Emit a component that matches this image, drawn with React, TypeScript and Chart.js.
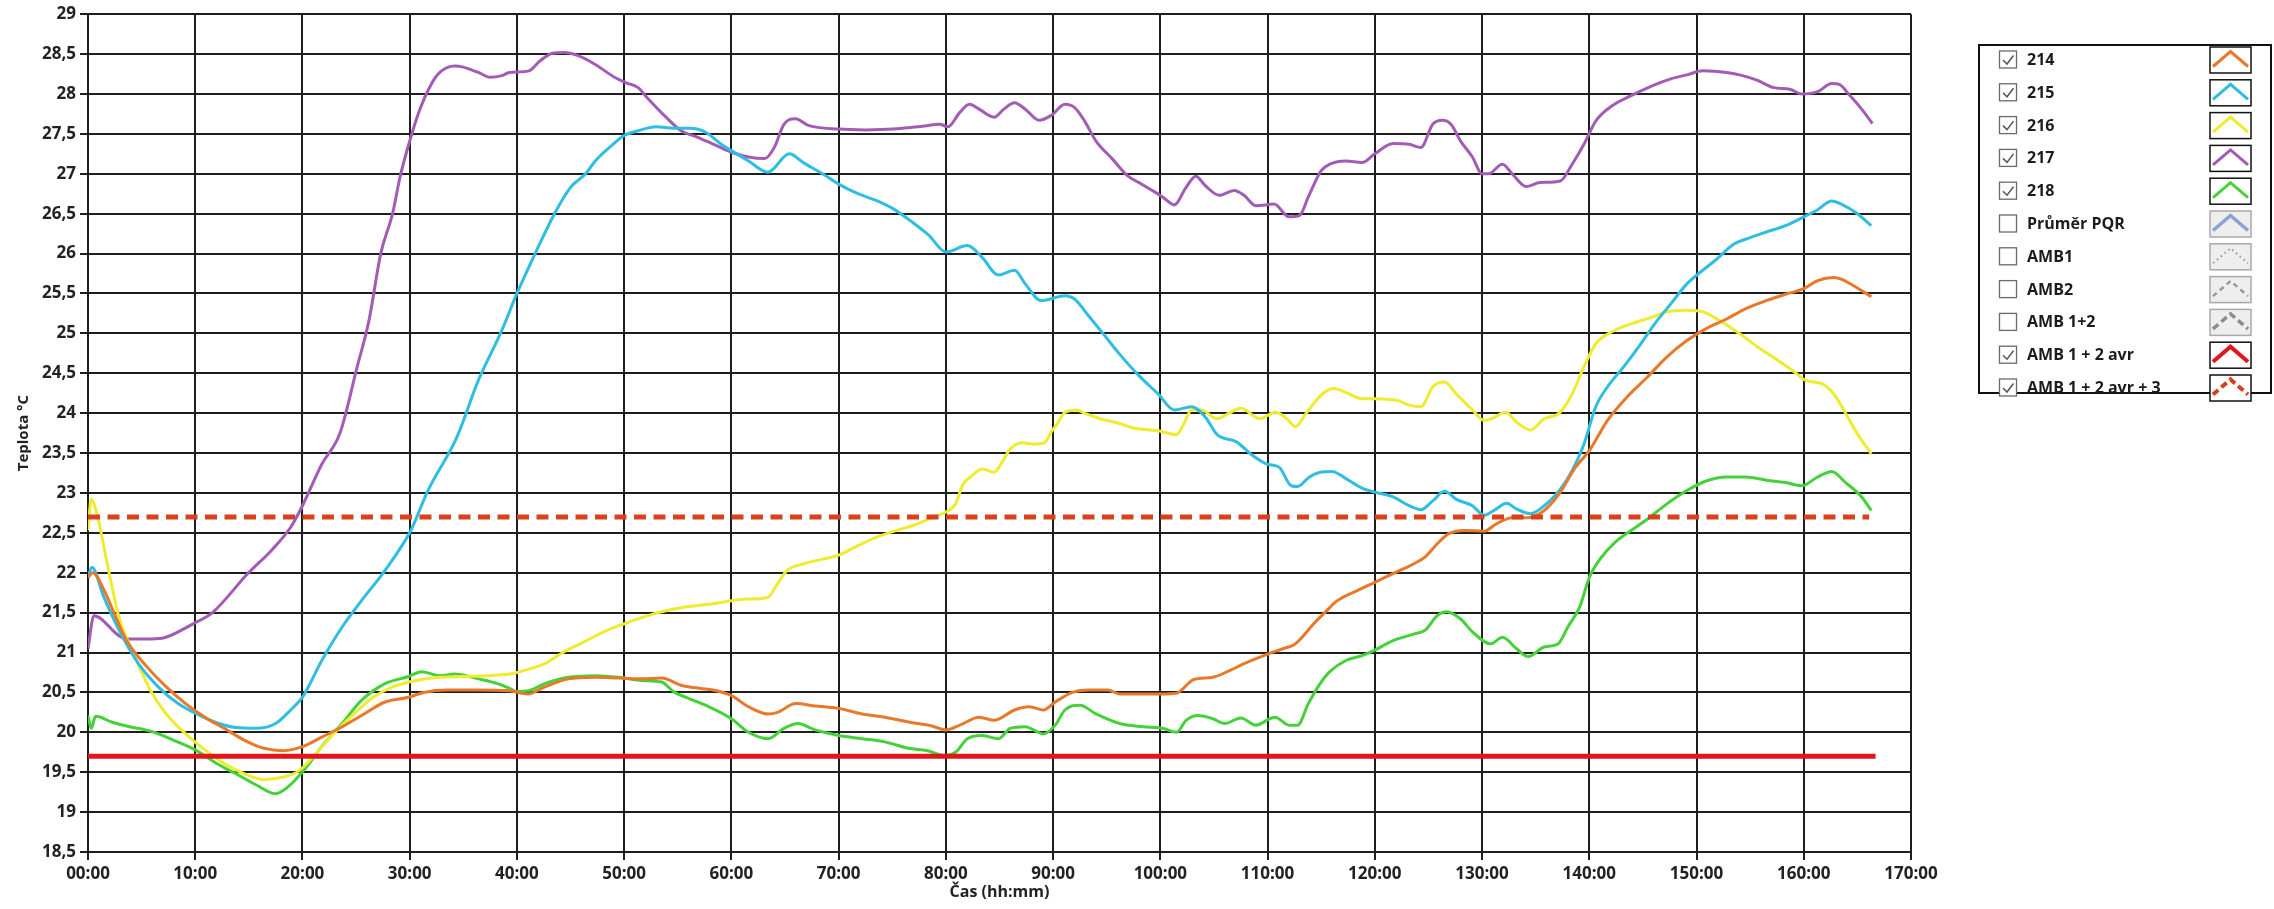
import { useEffect, useRef } from "react";
import { Chart, registerables } from "chart.js";

Chart.register(...registerables);

const W = 2274;
const H = 909;
const FONT = "'Open Sans', 'Noto Sans', sans-serif";

// Time axis (hours) and temperatures (°C) per sensor
const t214 = [0, 0.45, 1.5, 2.6, 3.6, 5.5, 7.3, 9.1, 10.9, 12.7, 14.6, 16.4, 18.2, 20, 21.8, 23.7, 25.5, 27.7, 29.9, 31.3, 33.5, 36.4, 39.3, 41, 42.6, 44.8, 47.3, 49.5, 51.7, 53.5, 55.3, 57.1, 58.3, 60, 61.6, 63.4, 64.3, 66, 67.8, 70, 72.2, 74.3, 76.5, 78.7, 80, 81.3, 83.1, 84.5, 86.4, 87.8, 89.1, 90.2, 91.8, 93.3, 95.1, 96.2, 98.4, 100.1, 101.5, 103.1, 104.9, 106.4, 107.8, 110, 111.5, 112.5, 113.2, 114.3, 115.4, 116.5, 118.4, 120, 121.7, 123.6, 124.7, 125.8, 126.9, 128.4, 130.2, 131.3, 132.8, 134.3, 135.8, 137.2, 138.7, 140, 141.7, 143.5, 145.4, 147.2, 149.1, 150.9, 152.8, 154.6, 156.5, 158.3, 160, 161.3, 162.8, 163.5, 164.6, 166.3];
const v214 = [21.94, 22.0, 21.78, 21.44, 21.15, 20.82, 20.57, 20.36, 20.19, 20.05, 19.9, 19.8, 19.77, 19.82, 19.94, 20.07, 20.21, 20.38, 20.44, 20.5, 20.53, 20.53, 20.52, 20.48, 20.57, 20.67, 20.69, 20.68, 20.67, 20.68, 20.59, 20.55, 20.53, 20.46, 20.32, 20.23, 20.25, 20.36, 20.33, 20.3, 20.23, 20.19, 20.13, 20.08, 20.03, 20.09, 20.19, 20.15, 20.28, 20.32, 20.28, 20.38, 20.5, 20.53, 20.53, 20.48, 20.48, 20.48, 20.49, 20.66, 20.69, 20.77, 20.86, 20.98, 21.05, 21.1, 21.19, 21.36, 21.51, 21.65, 21.78, 21.88, 21.99, 22.11, 22.2, 22.36, 22.49, 22.53, 22.52, 22.61, 22.69, 22.69, 22.78, 22.99, 23.32, 23.53, 23.91, 24.2, 24.45, 24.7, 24.91, 25.06, 25.18, 25.31, 25.41, 25.49, 25.56, 25.66, 25.7, 25.68, 25.6, 25.46];

const t215 = [0, 0.36, 1.46, 2.9, 4.7, 6.55, 8.4, 10, 12, 13.8, 15.65, 17.5, 18.9, 20, 21.8, 23.7, 25.5, 27.7, 30.1, 31.7, 34.4, 36.4, 38.6, 40, 41.7, 43.5, 45, 46.4, 47.3, 48.8, 50, 51.3, 53, 54.6, 56.2, 57.6, 59.05, 60, 61.6, 63.4, 65.4, 66.7, 68.5, 70, 71.8, 73.6, 75.1, 76.9, 78.4, 80, 82, 83.4, 84.9, 86.4, 87.4, 88.9, 91.1, 92, 93.3, 94.7, 96.2, 98, 99.8, 101.3, 102.9, 104.2, 105.3, 107.1, 108.6, 110, 111.1, 112.2, 112.8, 113.9, 114.9, 116, 117.3, 118.8, 120, 121.7, 123.2, 124.3, 125.4, 126.5, 127.6, 129.1, 130.2, 131.1, 132.3, 133.2, 134.5, 135.8, 137.2, 138.4, 139.5, 140.6, 141.7, 143.2, 144.6, 146.1, 147.6, 149.1, 150.2, 151.7, 153.5, 155, 156.5, 158.3, 160, 161.3, 162.6, 163.5, 165, 166.3];
const v215 = [21.94, 22.07, 21.7, 21.28, 20.86, 20.57, 20.36, 20.24, 20.12, 20.06, 20.05, 20.11, 20.28, 20.44, 20.9, 21.32, 21.65, 22.03, 22.53, 23.03, 23.7, 24.41, 25.04, 25.5, 26.0, 26.5, 26.83, 27.0, 27.16, 27.35, 27.48, 27.54, 27.59, 27.57, 27.57, 27.52, 27.37, 27.29, 27.16, 27.02, 27.25, 27.14, 27.0, 26.87, 26.75, 26.66, 26.56, 26.39, 26.23, 26.02, 26.1, 25.95, 25.73, 25.79, 25.62, 25.41, 25.47, 25.43, 25.22, 24.99, 24.74, 24.47, 24.24, 24.04, 24.08, 23.95, 23.73, 23.64, 23.47, 23.36, 23.32, 23.09, 23.08, 23.2, 23.26, 23.27, 23.18, 23.06, 23.01, 22.95, 22.84, 22.79, 22.9, 23.02, 22.92, 22.84, 22.72, 22.78, 22.87, 22.8, 22.74, 22.84, 23.03, 23.28, 23.61, 24.08, 24.33, 24.58, 24.83, 25.12, 25.37, 25.62, 25.75, 25.91, 26.12, 26.2, 26.27, 26.35, 26.46, 26.55, 26.66, 26.62, 26.5, 26.35];

const t216 = [0, 0.3, 0.9, 1.8, 2.9, 4.4, 5.8, 7.3, 9.1, 10.9, 12.7, 14.6, 16.4, 18.2, 19.7, 21.1, 22.9, 24.8, 26.6, 28.4, 30.6, 32.8, 34.9, 37.1, 39.3, 40.8, 42.6, 44.4, 46.2, 48.1, 50, 51.7, 53.5, 55.7, 58.3, 60, 61.6, 63.4, 64.1, 65.2, 66.7, 68.5, 70, 71.8, 73.6, 75.4, 77.3, 78.7, 80, 80.9, 81.6, 82.3, 83.4, 84.5, 85.3, 86, 87.1, 88.2, 89.2, 89.8, 90.4, 91.1, 92.2, 92.9, 94.4, 96.2, 97.6, 99.8, 101.5, 102.2, 102.9, 103.8, 105.3, 106.4, 107.5, 109.3, 110.7, 111.8, 112.6, 113.6, 115.1, 116.2, 117.3, 118.8, 120, 122.1, 123.2, 124.3, 125.4, 126.5, 127.6, 129.1, 130.2, 130.9, 132.2, 133.2, 134.5, 135.8, 137.2, 138.4, 139.5, 140.6, 142.1, 143.9, 145.8, 147.2, 149.1, 150.6, 152.4, 154.3, 155.7, 157.6, 159.1, 160.2, 161.7, 162.8, 163.9, 165, 166.3];
const v216 = [22.53, 22.92, 22.7, 22.11, 21.44, 20.94, 20.53, 20.23, 19.98, 19.78, 19.61, 19.48, 19.41, 19.44, 19.52, 19.71, 19.98, 20.23, 20.44, 20.57, 20.65, 20.69, 20.7, 20.71, 20.73, 20.78, 20.86, 21.01, 21.13, 21.26, 21.36, 21.44, 21.51, 21.57, 21.61, 21.65, 21.67, 21.69, 21.82, 22.03, 22.11, 22.17, 22.22, 22.34, 22.45, 22.53, 22.61, 22.69, 22.76, 22.86, 23.11, 23.2, 23.3, 23.26, 23.4, 23.55, 23.63, 23.61, 23.63, 23.76, 23.87, 24.01, 24.04, 24.0, 23.93, 23.87, 23.81, 23.78, 23.73, 23.87, 24.04, 24.04, 23.93, 24.0, 24.06, 23.93, 24.01, 23.93, 23.83, 24.0, 24.24, 24.31, 24.26, 24.18, 24.18, 24.16, 24.1, 24.08, 24.33, 24.39, 24.24, 24.04, 23.91, 23.93, 24.01, 23.89, 23.79, 23.93, 24.0, 24.24, 24.58, 24.87, 25.02, 25.12, 25.2, 25.27, 25.29, 25.27, 25.14, 24.97, 24.83, 24.66, 24.52, 24.41, 24.37, 24.24, 24.0, 23.74, 23.49];

const t217 = [0, 0.55, 2.9, 3.6, 5.5, 6.9, 9.8, 11.6, 14.9, 17.1, 18.9, 20, 21.8, 23.5, 25.1, 26.2, 27.3, 28.4, 29.1, 30, 30.9, 32, 32.8, 34.2, 34.9, 36.4, 37.5, 38.6, 39.3, 41.1, 42.2, 43.3, 44.4, 45.7, 47.3, 49.1, 50.2, 51.3, 52.1, 53.9, 55.3, 56.8, 58, 60, 61.6, 63.1, 64, 64.9, 66, 67.1, 70, 72.5, 75.1, 78, 79.4, 80.2, 81.3, 82.2, 83.1, 84.5, 85.4, 86.4, 87.4, 88.7, 89.8, 91.1, 92, 92.9, 94, 95.5, 96.9, 98, 99.5, 100.2, 101.3, 102.4, 103.3, 104.2, 105.5, 106.9, 107.8, 108.9, 110.6, 112, 113, 113.8, 115, 115.8, 117.3, 118.8, 120, 121.7, 123.2, 124.3, 125.4, 126.3, 127.1, 128, 129.1, 130, 130.6, 131.9, 132.8, 134.1, 135.4, 137.3, 138.4, 139.5, 140.6, 142.1, 143.9, 145.8, 147.6, 149.1, 150.6, 152.8, 154.3, 155.7, 157.2, 158.7, 159.8, 161.3, 162.6, 163.3, 164.3, 165.4, 166.4];
const v217 = [21.05, 21.46, 21.21, 21.17, 21.17, 21.18, 21.36, 21.5, 21.99, 22.28, 22.57, 22.84, 23.36, 23.75, 24.58, 25.16, 26.0, 26.5, 26.96, 27.41, 27.79, 28.12, 28.27, 28.35, 28.34, 28.27, 28.21, 28.23, 28.27, 28.29, 28.42, 28.51, 28.52, 28.48, 28.37, 28.21, 28.14, 28.08, 27.96, 27.71, 27.54, 27.46, 27.39, 27.27, 27.21, 27.19, 27.33, 27.62, 27.69, 27.61, 27.56, 27.55, 27.56, 27.6, 27.62, 27.59, 27.77, 27.87, 27.81, 27.71, 27.81, 27.89, 27.81, 27.67, 27.73, 27.87, 27.83, 27.67, 27.41, 27.19, 26.98, 26.89, 26.77, 26.71, 26.61, 26.83, 26.97, 26.85, 26.73, 26.79, 26.73, 26.6, 26.62, 26.46, 26.48, 26.71, 27.04, 27.12, 27.16, 27.14, 27.25, 27.38, 27.37, 27.33, 27.62, 27.67, 27.62, 27.41, 27.21, 27.0, 27.0, 27.12, 27.0, 26.84, 26.89, 26.91, 27.12, 27.37, 27.66, 27.85, 27.98, 28.1, 28.19, 28.24, 28.29, 28.27, 28.23, 28.17, 28.08, 28.06, 28.0, 28.03, 28.13, 28.12, 27.98, 27.81, 27.63];

const t218 = [0, 0.3, 0.7, 2.2, 3.6, 6.2, 8, 10, 12, 13.8, 15.7, 17.5, 18.2, 19.3, 20.4, 21.8, 23.7, 25.5, 27.7, 29.9, 31.1, 32.8, 34.2, 36.4, 38.2, 39.3, 40, 41.1, 42.6, 44.8, 47.3, 49.5, 51.7, 53.5, 54.6, 56.1, 57.9, 60, 61.6, 63.4, 64.9, 66.2, 67.8, 70, 72.2, 74.3, 76.5, 78.3, 79.8, 80.9, 82, 83.4, 84.9, 86, 87.4, 89.1, 90.2, 91.1, 92.5, 94, 96.2, 98.4, 100.2, 101.5, 102.4, 103.5, 104.9, 106, 107.5, 108.9, 110.7, 112, 112.8, 113.8, 114.9, 115.8, 117.3, 118.8, 120, 121.7, 123.6, 124.7, 125.8, 126.7, 128, 129.1, 130.8, 131.9, 133.2, 134.3, 135.8, 137.1, 138, 139.1, 140, 141, 142.4, 143.9, 145.4, 147.2, 149.1, 150.9, 152.8, 154.6, 156.5, 158.3, 159.8, 161.3, 162.6, 163.9, 165.4, 166.3];
const v218 = [20.21, 20.05, 20.2, 20.13, 20.08, 20.0, 19.9, 19.78, 19.61, 19.48, 19.34, 19.23, 19.27, 19.4, 19.57, 19.82, 20.11, 20.4, 20.61, 20.7, 20.76, 20.71, 20.73, 20.67, 20.61, 20.55, 20.51, 20.52, 20.61, 20.69, 20.71, 20.69, 20.65, 20.63, 20.51, 20.42, 20.32, 20.17, 20.0, 19.92, 20.05, 20.11, 20.03, 19.96, 19.92, 19.88, 19.8, 19.77, 19.71, 19.75, 19.92, 19.96, 19.92, 20.05, 20.07, 19.98, 20.09, 20.28, 20.34, 20.23, 20.11, 20.07, 20.05, 20.0, 20.15, 20.21, 20.17, 20.11, 20.18, 20.09, 20.19, 20.09, 20.09, 20.36, 20.61, 20.76, 20.9, 20.96, 21.03, 21.15, 21.23, 21.28, 21.46, 21.51, 21.42, 21.26, 21.11, 21.19, 21.05, 20.95, 21.07, 21.11, 21.32, 21.57, 21.94, 22.17, 22.38, 22.53, 22.67, 22.86, 23.03, 23.15, 23.2, 23.2, 23.16, 23.13, 23.09, 23.2, 23.27, 23.13, 22.95, 22.78];

// Reference levels (AMB averages)
const ambAvrTimes = [0, 166.7];
const ambAvrValues = [19.7, 19.7];
const ambAvr3Times = [0, 166.1];
const ambAvr3Values = [22.7, 22.7];

// Axis ranges and legend entries
const xTicksHours = { min: 0, max: 170, step: 10 };
const yTicksTemp = { min: 18.5, max: 29, step: 0.5 };

const C_214 = "#e8792a";
const C_215 = "#2fbde2";
const C_216 = "#eeec2e";
const C_217 = "#a35cb6";
const C_218 = "#45d13a";
const C_AVR = "#e0161b";
const C_AVR3 = "#d9401c";

type LegendEntry = { label: string; color: string; checked: boolean; dash: number[]; width: number };

const legendEntries: LegendEntry[] = [
  { label: "214", color: C_214, checked: true, dash: [], width: 3 },
  { label: "215", color: C_215, checked: true, dash: [], width: 3 },
  { label: "216", color: C_216, checked: true, dash: [], width: 3 },
  { label: "217", color: C_217, checked: true, dash: [], width: 3 },
  { label: "218", color: C_218, checked: true, dash: [], width: 3 },
  { label: "Průměr PQR", color: "#8aa3d6", checked: false, dash: [], width: 3.5 },
  { label: "AMB1", color: "#a8a8a8", checked: false, dash: [2, 3], width: 2 },
  { label: "AMB2", color: "#999999", checked: false, dash: [5, 4], width: 2.5 },
  { label: "AMB 1+2", color: "#8c8c8c", checked: false, dash: [7, 4], width: 3.5 },
  { label: "AMB 1 + 2 avr", color: C_AVR, checked: true, dash: [], width: 4 },
  { label: "AMB 1 + 2 avr + 3", color: C_AVR3, checked: true, dash: [7, 4], width: 4 },
];

const pts = (t: number[], v: number[]) => t.map((x, i) => ({ x, y: v[i] }));

const series = (label: string, color: string, t: number[], v: number[]) => ({
  label,
  data: pts(t, v),
  borderColor: color,
  backgroundColor: color,
  borderWidth: 3,
  pointRadius: 0,
  borderJoinStyle: "round" as const,
  cubicInterpolationMode: "monotone" as const,
  order: 2,
});

// Legend box drawn to the right of the plot area
const sideLegend = {
  id: "sideLegend",
  afterDraw(chart: Chart) {
    const ctx = chart.ctx;
    ctx.save();
    const boxX = 1979;
    const boxY = 45;
    const boxW = 292;
    const boxH = 348;
    ctx.lineWidth = 2;
    ctx.strokeStyle = "#111";
    ctx.strokeRect(boxX, boxY, boxW, boxH);

    legendEntries.forEach((e, i) => {
      const cy = 59.5 + 32.8 * i;
      // checkbox
      ctx.setLineDash([]);
      ctx.lineWidth = 1.3;
      ctx.strokeStyle = "#6a6a6a";
      ctx.fillStyle = "#fff";
      ctx.fillRect(1999.5, cy - 8.5, 17, 17);
      ctx.strokeRect(1999.5, cy - 8.5, 17, 17);
      if (e.checked) {
        ctx.beginPath();
        ctx.lineWidth = 1.5;
        ctx.strokeStyle = "#555";
        ctx.moveTo(2003, cy + 0.5);
        ctx.lineTo(2007, cy + 4.5);
        ctx.lineTo(2013.5, cy - 4);
        ctx.stroke();
      }
      // label
      ctx.fillStyle = "#1c1c1c";
      ctx.font = `bold 16px ${FONT}`;
      ctx.textBaseline = "middle";
      ctx.textAlign = "left";
      ctx.fillText(e.label, 2027, cy + 1);
      // swatch
      const sx = 2210;
      const sw = 41;
      const sy = cy - 12.5;
      const sh = 26;
      ctx.fillStyle = e.checked ? "#ffffff" : "#eeeeee";
      ctx.fillRect(sx, sy, sw, sh);
      ctx.lineWidth = 1.5;
      ctx.strokeStyle = e.checked ? "#111" : "#a9a9a9";
      ctx.strokeRect(sx, sy, sw, sh);
      ctx.beginPath();
      ctx.setLineDash(e.dash);
      ctx.lineWidth = e.width;
      ctx.strokeStyle = e.color;
      ctx.lineCap = "butt";
      ctx.lineJoin = "miter";
      ctx.moveTo(sx + 3, cy + 7);
      ctx.lineTo(sx + sw / 2, cy - 8);
      ctx.lineTo(sx + sw - 3, cy + 7);
      ctx.stroke();
      ctx.setLineDash([]);
    });
    ctx.restore();
  },
};

export default function App() {
  const canvasRef = useRef<HTMLCanvasElement | null>(null);

  useEffect(() => {
    const canvas = canvasRef.current;
    if (!canvas) return;
    const gridColor = "#1e1e1e";
    const chart = new Chart(canvas, {
      type: "line",
      data: {
        datasets: [
          series("214", C_214, t214, v214),
          series("215", C_215, t215, v215),
          series("216", C_216, t216, v216),
          series("217", C_217, t217, v217),
          series("218", C_218, t218, v218),
          {
            label: "AMB 1 + 2 avr",
            data: pts(ambAvrTimes, ambAvrValues),
            borderColor: C_AVR,
            backgroundColor: C_AVR,
            borderWidth: 5,
            pointRadius: 0,
            order: 1,
          },
          {
            label: "AMB 1 + 2 avr + 3",
            data: pts(ambAvr3Times, ambAvr3Values),
            borderColor: C_AVR3,
            backgroundColor: C_AVR3,
            borderWidth: 5,
            borderDash: [12, 7.5],
            borderCapStyle: "butt",
            pointRadius: 0,
            order: 1,
          },
        ],
      },
      options: {
        responsive: false,
        maintainAspectRatio: false,
        animation: false,
        devicePixelRatio: 1,
        parsing: false,
        normalized: true,
        layout: { padding: { left: 0, top: 13, right: 363, bottom: 0 } },
        plugins: {
          legend: { display: false },
          tooltip: { enabled: false },
        },
        scales: {
          x: {
            type: "linear",
            min: xTicksHours.min,
            max: xTicksHours.max,
            afterFit: (s: any) => {
              s.height = 57;
            },
            ticks: {
              stepSize: xTicksHours.step,
              color: "#222",
              font: { family: FONT, size: 17, weight: "bold" },
              padding: 4,
              maxRotation: 0,
              autoSkip: false,
              callback: (v: any) => `${String(v).padStart(2, "0")}:00`,
            },
            grid: { color: gridColor, lineWidth: 2, tickLength: 8, drawTicks: true },
            border: { color: gridColor, width: 2 },
            title: {
              display: true,
              text: "Čas (hh:mm)",
              color: "#222",
              font: { family: FONT, size: 16, weight: "bold" },
              padding: { top: 0, bottom: 7 },
            },
          },
          y: {
            type: "linear",
            min: yTicksTemp.min,
            max: yTicksTemp.max,
            afterFit: (s: any) => {
              s.width = 88;
            },
            ticks: {
              stepSize: yTicksTemp.step,
              color: "#222",
              font: { family: FONT, size: 17, weight: "bold" },
              padding: 4,
              autoSkip: false,
              callback: (v: any) => String(Math.round(Number(v) * 10) / 10).replace(".", ","),
            },
            grid: { color: gridColor, lineWidth: 2, tickLength: 8, drawTicks: true },
            border: { color: gridColor, width: 2 },
            title: {
              display: true,
              text: "Teplota °C",
              color: "#222",
              font: { family: FONT, size: 15, weight: "bold" },
              padding: { top: 15, bottom: 0 },
            },
          },
        },
      },
      plugins: [sideLegend],
    } as any);
    return () => chart.destroy();
  }, []);

  return (
    <div style={{ position: "absolute", left: 0, top: 0, width: W, height: H, background: "#fff" }}>
      <canvas ref={canvasRef} width={W} height={H} style={{ display: "block", width: W, height: H }} />
    </div>
  );
}
